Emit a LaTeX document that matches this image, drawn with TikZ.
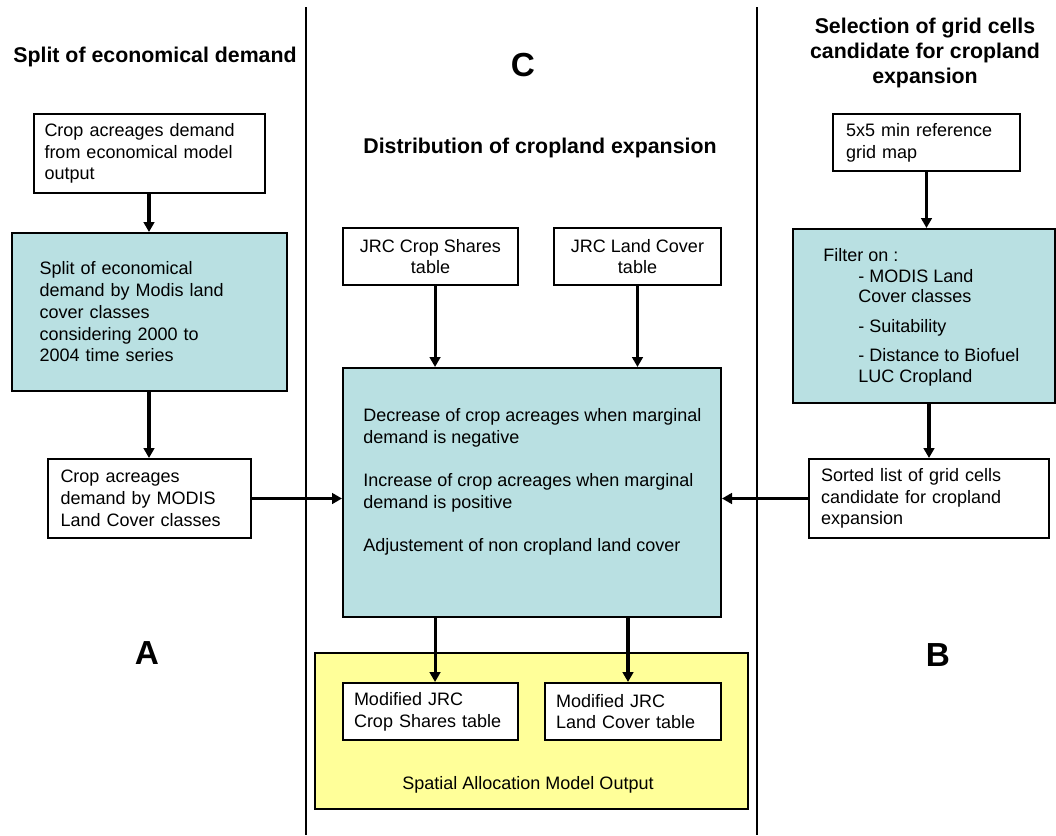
\documentclass[tikz,border=0pt]{standalone}
\usepackage{fontspec}
\setmainfont{Liberation Sans}
\usetikzlibrary{arrows.meta}
\definecolor{boxteal}{RGB}{185,224,226}
\definecolor{outyellow}{RGB}{255,255,153}
\begin{document}
\begin{tikzpicture}[x=0.75pt, y=-0.75pt,
  body/.style={font={\fontsize{13.5pt}{16.3pt}\selectfont}},
  box/.style={draw=black, line width=1.5pt, inner sep=0pt, fill=white, body},
  tealbox/.style={box, fill=boxteal},
  plain/.style={inner sep=0pt, body},
  heading/.style={inner sep=0pt, font={\fontsize{16pt}{18.75pt}\selectfont\bfseries}},
  letter/.style={inner sep=0pt, font={\fontsize{25pt}{30pt}\selectfont\bfseries}},
  divider/.style={line width=1.6pt},
  flow/.style={line width=2.3pt, -{Triangle[length=7.5pt, width=8pt]}}]

\useasboundingbox (0,0) rectangle (1056,835);

% column dividers
\draw[divider] (306,7) -- (306,835);
\draw[divider] (757,7) -- (757,835);

% headings and column letters
\node[heading] (titA) at (155,57) {Split of economical demand};
\node[letter] (letC) at (523,65) {C};
\node[heading] (titC) at (540,147.5) {Distribution of cropland expansion};
\node[heading, align=center] (titB) at (925,53)
  {Selection of grid cells\\candidate for cropland\\expansion};
\node[letter] (letA) at (147,653.5) {A};
\node[letter] (letB) at (938,655) {B};

% column A: splitting the economic demand
\node[box, minimum width=173.25pt, minimum height=59.25pt,
      text width=156.75pt, align=left] (b1) at (149,153.5)
  {Crop acreages demand\\from economical model\\output};
\node[tealbox, minimum width=206.25pt, minimum height=118.5pt,
      text width=164.25pt, align=left] (b2) at (149,312)
  {Split of economical\\demand by Modis land\\cover classes\\considering 2000 to\\2004 time series};
\node[box, minimum width=152.25pt, minimum height=59.25pt,
      text width=132.75pt, align=left] (b3) at (149,498.5)
  {Crop acreages\\demand by MODIS\\Land Cover classes};

% column C: distribution of cropland expansion
\node[box, minimum width=131.25pt, minimum height=42.75pt, align=center] (jcs)
  at (430.5,256.5) {JRC Crop Shares\\table};
\node[box, minimum width=125.25pt, minimum height=42.75pt, align=center] (jlc)
  at (637.5,256.5) {JRC Land Cover\\table};
\node[tealbox, minimum width=283.5pt, minimum height=186.75pt] (cen) at (532,492.5) {};
\node[plain, anchor=north west, align=left] (centxt) at (363,408)
  {Decrease of crop acreages when marginal\\demand is negative\\[16.6pt]
   Increase of crop acreages when marginal\\demand is positive\\[16pt]
   Adjustement of non cropland land cover};

\node[box, fill=outyellow, minimum width=324.75pt, minimum height=117pt] (yel)
  at (531.5,731) {};
\node[plain] (yeltxt) at (528,785) {Spatial Allocation Model Output};
\node[box, minimum width=131.25pt, minimum height=42.75pt,
      text width=114.75pt, align=left] (mcs) at (430.5,711.5)
  {Modified JRC\\Crop Shares table};
\node[box, minimum width=132pt, minimum height=42.75pt,
      text width=115.5pt, align=left] (mlc) at (633,711.5)
  {Modified JRC\\Land Cover table};

% column B: selection of candidate grid cells
\node[box, minimum width=140.25pt, minimum height=42.75pt,
      text width=120.75pt, align=left] (grd) at (926.5,142.5)
  {5x5 min reference\\grid map};
\node[tealbox, minimum width=196.5pt, minimum height=130.5pt] (flt) at (924,316) {};
\node[plain, anchor=north west, align=left,
      font={\fontsize{13.5pt}{15.6pt}\selectfont}] (flttxt) at (823,248)
  {Filter on :\\
   \hspace*{26.25pt}- MODIS Land\\
   \hspace*{26.25pt}Cover classes\\[6.5pt]
   \hspace*{26.25pt}- Suitability\\[6.5pt]
   \hspace*{26.25pt}- Distance to Biofuel\\
   \hspace*{26.25pt}LUC Cropland};
\node[box, minimum width=180pt, minimum height=59.25pt,
      text width=162pt, align=left] (srt) at (929,498.5)
  {Sorted list of grid cells\\candidate for cropland\\expansion};

% connectors
\draw[flow] (b1.south) -- (b2.north);
\draw[flow] (b2.south) -- (b3.north);
\draw[flow] (b3.east) -- (b3.east -| cen.west);
\draw[flow] ([xshift=3.4pt]jcs.south) -- ([xshift=3.4pt]jcs.south |- cen.north);
\draw[flow] (jlc.south) -- (jlc.south |- cen.north);
\draw[flow] ([xshift=3.4pt]mcs.north |- cen.south) -- ([xshift=3.4pt]mcs.north);
\draw[flow] ([xshift=-3.75pt]mlc.north |- cen.south) -- ([xshift=-3.75pt]mlc.north);
\draw[flow] (grd.south) -- (grd.south |- flt.north);
\draw[flow] (srt.north |- flt.south) -- (srt.north);
\draw[flow] (srt.west) -- (srt.west -| cen.east);
\end{tikzpicture}
\end{document}
